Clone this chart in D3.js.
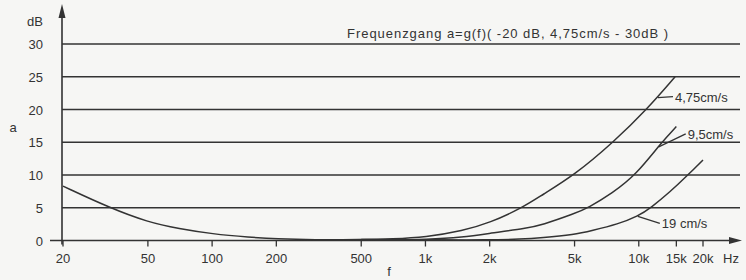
<!DOCTYPE html>
<html>
<head>
<meta charset="utf-8">
<script src="https://cdn.jsdelivr.net/npm/d3@7"></script>
<style>
  html, body { margin: 0; padding: 0; background: #f6f6f4; }
  svg { display: block; }
  text { font-family: "Liberation Sans", Arial, sans-serif; fill: #333; }
</style>
</head>
<body>
<svg id="chart"></svg>
<script>
const yTicks = [0, 5, 10, 15, 20, 25, 30];
const xTicks = [20, 50, 100, 200, 500, 1000, 2000, 5000, 10000, 15000, 20000];
const xTickLabels = ['20', '50', '100', '200', '500', '1k', '2k', '5k', '10k', '15k', '20k'];

const freq475 = [20, 33, 50, 70, 100, 150, 200, 300, 500, 700, 1000, 1500, 2000, 2850, 3500, 5000, 7600, 10900, 14800];
const db475   = [8.3, 5, 2.8, 1.8, 1.0, 0.5, 0.25, 0.1, 0.15, 0.25, 0.5, 1.5, 2.7, 5, 6.9, 10, 15, 20, 25];

const freq95 = [500, 700, 1000, 1500, 2000, 3000, 3500, 5000, 5800, 7500, 9700, 12800, 15000];
const db95   = [0.15, 0.1, 0.15, 0.5, 1.1, 1.9, 2.35, 4.1, 5, 7.2, 10, 15, 17.4];

const freq19 = [1000, 2000, 2800, 3500, 5000, 6000, 8000, 9900, 11400, 14000, 17000, 20000];
const db19   = [0.1, 0.08, 0.2, 0.4, 0.9, 1.5, 2.5, 3.7, 5, 7.4, 10, 12.3];

const width = 746, height = 280;
const svg = d3.select('#chart').attr('width', width).attr('height', height);

const x = d3.scaleLog().domain([20, 20000]).range([63, 703]);
const y = d3.scaleLinear().domain([0, 30]).range([240.5, 44]);
const ink = '#333';

// Gitterlinien
svg.selectAll('line.grid')
    .data(yTicks.filter(d => d > 0))
    .enter()
    .append('line')
    .attr('x1', 62).attr('x2', 740)
    .attr('y1', d => y(d)).attr('y2', d => y(d))
    .attr('stroke', ink).attr('stroke-width', 1.3);

// x-Achse mit Pfeil
svg.append('line')
    .attr('x1', 50).attr('x2', 733)
    .attr('y1', y(0)).attr('y2', y(0))
    .attr('stroke', ink).attr('stroke-width', 1.6);
svg.append('path')
    .attr('d', `M742,${y(0)} L729,${y(0) - 3.5} L729,${y(0) + 3.5} Z`)
    .attr('fill', ink);

// y-Achse mit Pfeil
svg.append('line')
    .attr('x1', 62).attr('x2', 62)
    .attr('y1', y(0) + 4).attr('y2', 14)
    .attr('stroke', ink).attr('stroke-width', 1.6);
svg.append('path')
    .attr('d', 'M62,4 L58.5,18 L65.5,18 Z')
    .attr('fill', ink);

// Striche an der x-Achse
svg.selectAll('line.xtick')
    .data(xTicks)
    .enter()
    .append('line')
    .attr('x1', d => x(d)).attr('x2', d => x(d))
    .attr('y1', y(0)).attr('y2', y(0) + 6)
    .attr('stroke', ink).attr('stroke-width', 1.3);

svg.selectAll('text.xlab')
    .data(xTicks)
    .enter()
    .append('text')
    .attr('x', d => x(d))
    .attr('y', 263)
    .attr('text-anchor', 'middle')
    .attr('font-size', 13)
    .text((d, i) => xTickLabels[i]);

svg.selectAll('text.ylab')
    .data(yTicks)
    .enter()
    .append('text')
    .attr('x', 43)
    .attr('y', d => y(d) + 5)
    .attr('text-anchor', 'end')
    .attr('font-size', 13)
    .text(d => d);

svg.append('text').attr('x', 43).attr('y', 26).attr('text-anchor', 'end')
    .attr('font-size', 13).text('dB');
svg.append('text').attr('x', 731).attr('y', 263).attr('text-anchor', 'middle')
    .attr('font-size', 13).text('Hz');
svg.append('text').attr('x', 13).attr('y', 132).attr('text-anchor', 'middle')
    .attr('font-size', 13).text('a');
svg.append('text').attr('x', 389).attr('y', 276).attr('text-anchor', 'middle')
    .attr('font-size', 13).text('f');

svg.append('text').attr('x', 347).attr('y', 38)
    .attr('font-size', 13)
    .attr('textLength', 321)
    .attr('lengthAdjust', 'spacing')
    .text('Frequenzgang  a=g(f)( -20 dB, 4,75cm/s  - 30dB )');

const line = d3.line()
    .x(d => x(d[0]))
    .y(d => y(d[1]))
    .curve(d3.curveBasis);

const series = [
    d3.zip(freq475, db475),
    d3.zip(freq95, db95),
    d3.zip(freq19, db19)
];

svg.selectAll('path.curve')
    .data(series)
    .enter()
    .append('path')
    .attr('d', line)
    .attr('fill', 'none')
    .attr('stroke', ink)
    .attr('stroke-width', 1.5);

// Beschriftung mit Hinweislinien
const labels = [
    { f: 12300, db: 21.8, text: '4,75cm/s', dx: 15, dy: -1 },
    { f: 12400, db: 14.3, text: '9,5cm/s', dx: 27, dy: -13 },
    { f: 9900, db: 3.7, text: '19 cm/s', dx: 22, dy: 7 }
];
labels.forEach(l => {
    const px = x(l.f), py = y(l.db);
    svg.append('line')
        .attr('x1', px).attr('y1', py)
        .attr('x2', px + l.dx).attr('y2', py + l.dy)
        .attr('stroke', ink).attr('stroke-width', 1.3);
    svg.append('text')
        .attr('x', px + l.dx + 2).attr('y', py + l.dy + 5)
        .attr('font-size', 13)
        .text(l.text);
});
</script>
</body>
</html>
